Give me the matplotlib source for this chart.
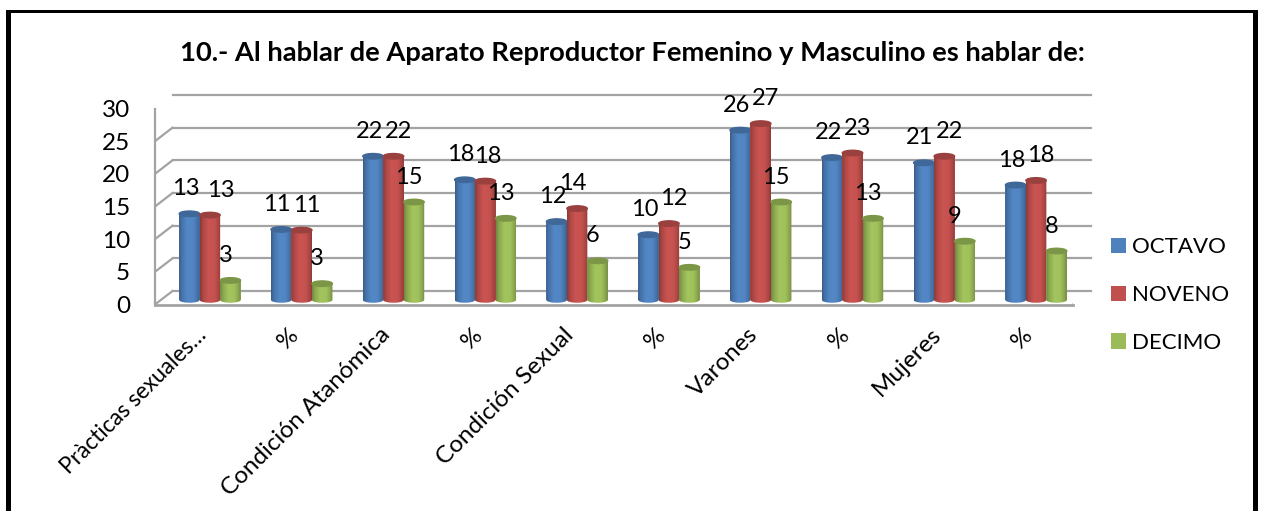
import numpy as np
import matplotlib
matplotlib.use('Agg')
import matplotlib.pyplot as plt
from matplotlib.colors import to_rgb
from matplotlib.patches import Ellipse, PathPatch, Rectangle
from matplotlib.path import Path
from matplotlib.transforms import Affine2D

plt.rcParams['font.family'] = ['Lato', 'DejaVu Sans']

categories = ['Pràcticas sexuales…', '%', 'Condición Atanómica', '%', 'Condición Sexual',
              '%', 'Varones', '%', 'Mujeres', '%']
octavo = [13.2, 10.8, 22, 18.4, 12, 10, 26, 21.8, 21, 17.6]
noveno = [13, 10.7, 22, 18.2, 14, 11.7, 27, 22.5, 22, 18.3]
decimo = [3, 2.5, 15, 12.5, 6, 5, 15, 12.5, 9, 7.5]
yticks = [0, 5, 10, 15, 20, 25, 30]

series = [('OCTAVO', octavo, '#4F81BD'), ('NOVENO', noveno, '#C0504D'), ('DECIMO', decimo, '#9BBB59')]
W, H = 1264, 511

fig = plt.figure(figsize=(W / 100, H / 100), dpi=100)
# front plane of the fake 3d box, in pixels
left, right, y0, y30 = 155, 1073, 304.5, 108.5
ax = fig.add_axes([left / W, 1 - y0 / H, (right - left) / W, (y0 - y30) / H])
ax.patch.set_visible(False)
for s in ax.spines.values():
    s.set_visible(False)

back = ax.transData + Affine2D().translate(17.5, 13.5)
mid = ax.transData + Affine2D().translate(9, 4.5)
GRAY = '#a3a3a3'

ax.set_xlim(0, 10)
ax.set_ylim(0, 30)

# walls
for t in yticks:
    ax.plot([0, 10], [t, t], transform=back, color=GRAY, lw=1.6, clip_on=False, zorder=1)
    xa, ya = ax.transData.transform((0, t))
    ax.plot([xa, xa + 17.5], [ya, ya + 13.5], transform=None, color=GRAY, lw=1.6, zorder=1)
xa, ya = ax.transData.transform((10, 0))
ax.plot([xa, xa + 17.5], [ya, ya + 13.5], transform=None, color=GRAY, lw=1.6, zorder=1)
ax.plot([0, 0], [0, 30], color=GRAY, lw=1.6, clip_on=False, zorder=1)
ax.plot([0, 10], [0, 0], color=GRAY, lw=2, clip_on=False, zorder=1)

bw = 0.223
cap = 0.42  # half height of the cylinder ends, y units
shade = np.interp(np.linspace(0, 1, 40), [0, 0.12, 0.4, 0.7, 0.92, 1], [0.72, 0.88, 1.05, 1.03, 0.86, 0.72])

# label nudges in pixels: per series, then the ones that sit elsewhere
label_dx = [-4, 5, -5]
label_fix = {(1, 0): 6, (1, 3): -3, (1, 4): -9, (2, 8): -5}
for i, (name, vals, col) in enumerate(series):
    rgb = np.array(to_rgb(col))
    grad = np.clip(shade[:, None] * rgb, 0, 1)[None, :, :]
    xs = np.arange(10) + 0.5 + (i - 1) * bw
    ax.bar(xs, vals, width=bw, color=col, transform=mid, zorder=3 + i, label=name, clip_on=False)
    for j, (x, v) in enumerate(zip(xs, vals)):
        th = np.linspace(np.pi, 2 * np.pi, 24)
        ox = x + bw / 2 * np.cos(th)
        oy = cap * np.sin(th)
        verts = list(zip(ox, oy)) + [(x + bw / 2, v), (x - bw / 2, v), (x - bw / 2, 0)]
        clip = PathPatch(Path(verts, closed=True), transform=mid)
        im = ax.imshow(grad, extent=(x - bw / 2, x + bw / 2, -cap, v), aspect='auto', transform=mid,
                       zorder=3 + i, interpolation='bilinear')
        im.set_clip_path(clip)
        ax.add_patch(Ellipse((x, v), bw, 2 * cap, transform=mid, color=tuple(rgb * 0.8),
                             zorder=3.5 + i, clip_on=False))
        lab = int(v + 0.5)
        dx = label_dx[i] + label_fix.get((i, j), 0)
        ax.annotate(str(lab), (x, v), xycoords=mid, xytext=(dx * 0.72, 18), textcoords='offset points',
                    ha='center', va='center', fontsize=17, color='black', zorder=10, annotation_clip=False)

ax.set_xlim(0, 10)
ax.set_ylim(0, 30)
ax.set_yticks(yticks)
ax.tick_params(axis='y', length=0, pad=18, labelsize=17.5)
ax.set_xticks(np.arange(10) + 0.5)
ax.set_xticklabels(categories, rotation=45, ha='right', rotation_mode='anchor', fontsize=17.5)
ax.get_xticklabels()[0].set_fontsize(16.3)
ax.tick_params(axis='x', length=0, pad=12)
for lbl in ax.get_xticklabels():
    lbl.set_transform(lbl.get_transform() + Affine2D().translate(-5, -3))

fig.text(632 / W, 1 - 53 / H, '10.- Al hablar de Aparato Reproductor Femenino y Masculino es hablar de:',
         ha='center', va='center', fontsize=19.7, fontweight='bold')

handles, labels = ax.get_legend_handles_labels()
fig.legend(handles, labels, loc='center left', bbox_to_anchor=(1091 / W, 1 - 295 / H), frameon=False,
           fontsize=16, handlelength=0.675, handleheight=0.675, handletextpad=0.27, labelspacing=1.25)

# page border, open at the bottom
for xy, w, h in [((6, 0), 5, 501), ((6, 498), 1252, 3), ((1253, 0), 5, 501)]:
    fig.add_artist(Rectangle((xy[0] / W, xy[1] / H), w / W, h / H, transform=fig.transFigure, color='black', lw=0))

fig.savefig('out.png', dpi=100)
